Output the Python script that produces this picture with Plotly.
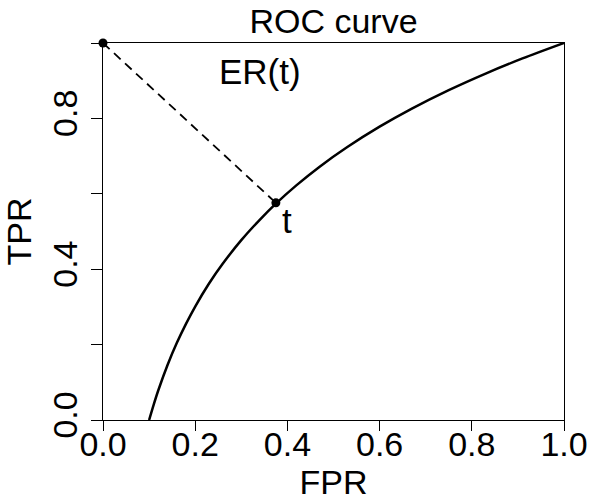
import plotly.graph_objects as go

# ROC curve values
fpr = [0.10, 0.11, 0.12, 0.14, 0.16, 0.18, 0.20, 0.23, 0.26, 0.30, 0.34, 0.375,
       0.42, 0.47, 0.53, 0.60, 0.67, 0.75, 0.83, 0.91, 1.00]
tpr = [0.000, 0.041, 0.079, 0.146, 0.204, 0.255, 0.301, 0.362, 0.415, 0.477, 0.531, 0.574,
       0.623, 0.672, 0.724, 0.778, 0.826, 0.875, 0.919, 0.959, 1.000]

# ideal corner and threshold point t
corner_x, corner_y = 0.0, 1.0
t_x, t_y = 0.375, 0.576

x_ticks = [0.0, 0.2, 0.4, 0.6, 0.8, 1.0]
x_ticktext = ["0.0", "0.2", "0.4", "0.6", "0.8", "1.0"]
y_ticks = [0.0, 0.2, 0.4, 0.6, 0.8, 1.0]
y_ticktext = ["0.0", "", "0.4", "", "0.8", ""]

FONT = "Liberation Sans, Arial, Helvetica, sans-serif"
FS = 34
W, H = 590, 504

fig = go.Figure()
fig.add_trace(go.Scatter(x=[corner_x, t_x], y=[corner_y, t_y], mode="lines",
                         line=dict(color="black", width=1.8, dash="9px,6px"),
                         showlegend=False, hoverinfo="skip", cliponaxis=False))
fig.add_trace(go.Scatter(x=fpr, y=tpr, mode="lines",
                         line=dict(color="black", width=2.5, shape="spline", smoothing=0.8),
                         showlegend=False, cliponaxis=False))
fig.add_trace(go.Scatter(x=[corner_x, t_x], y=[corner_y, t_y], mode="markers",
                         marker=dict(color="black", size=9),
                         showlegend=False, cliponaxis=False))

fig.add_annotation(x=0.341, y=0.925, text="ER(t)", showarrow=False,
                   xref="x", yref="y", font=dict(family=FONT, size=35, color="black"))
fig.add_annotation(x=0.400, y=0.530, text="t", showarrow=False,
                   xref="x", yref="y", font=dict(family=FONT, size=35, color="black"))

fig.update_layout(
    width=W, height=H,
    margin=dict(l=103, r=26, t=43, b=84, autoexpand=False),
    paper_bgcolor="white", plot_bgcolor="white",
    font=dict(family=FONT, size=FS, color="black"),
    title=dict(text="ROC curve", x=0.5, xref="paper", xanchor="center",
               y=1 - 21 / H, yref="container", yanchor="middle",
               font=dict(family=FONT, size=FS, color="black")),
    xaxis=dict(range=[0, 1], tickvals=x_ticks, ticktext=x_ticktext,
               automargin=False,
               showgrid=False, zeroline=False, showline=True, linecolor="black",
               linewidth=1, mirror=True, ticks="outside", ticklen=10,
               tickcolor="black", tickwidth=1, ticklabelstandoff=-16,
               tickfont=dict(family=FONT, size=FS, color="black"),
               title=dict(text="FPR", standoff=2,
                          font=dict(family=FONT, size=FS, color="black"))),
    yaxis=dict(range=[0, 1], tickvals=y_ticks, ticktext=y_ticktext,
               automargin=False,
               showgrid=False, zeroline=False, showline=True, linecolor="black",
               linewidth=1, mirror=True, ticks="outside", ticklen=11,
               tickcolor="black", tickwidth=1, tickangle=-90,
               tickfont=dict(family=FONT, size=FS, color="black"),
               title=dict(text="TPR", standoff=8,
                          font=dict(family=FONT, size=FS, color="black"))),
)

fig.write_html(
    "out.html",
    config={"displayModeBar": False},
    post_script="document.body.style.margin='0';document.body.style.overflow='hidden';",
)
